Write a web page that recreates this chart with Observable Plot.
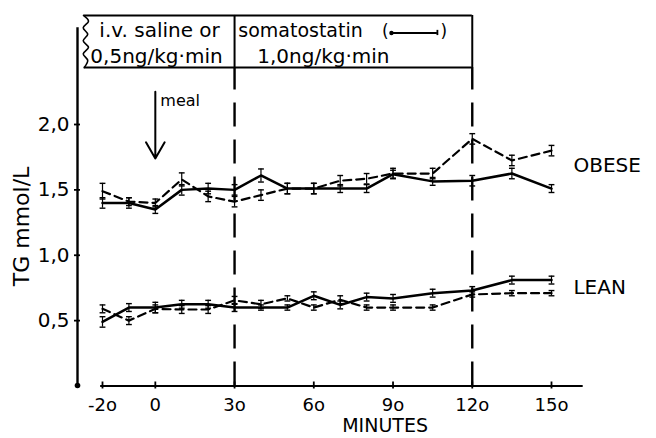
<!DOCTYPE html>
<html><head><meta charset="utf-8">
<script src="https://cdn.jsdelivr.net/npm/d3@7"></script>
<script src="https://cdn.jsdelivr.net/npm/@observablehq/plot@0.6"></script>
<style>
body{margin:0;background:#fff}
svg{font-family:"DejaVu Sans",Arial,sans-serif}
</style>
</head><body><div id="chart"></div>
<script>
// ---- data ----
const minutes = [-20,-10,0,10,20,30,40,50,60,70,80,90,105,120,135,150];
const obeseSomatostatin = [1.40,1.40,1.35,1.50,1.51,1.50,1.61,1.51,1.51,1.51,1.51,1.62,1.565,1.57,1.625,1.51];
const obeseSaline       = [1.49,1.41,1.40,1.58,1.45,1.41,1.46,1.51,1.51,1.57,1.585,1.625,1.625,1.89,1.725,1.80];
const leanSomatostatin  = [0.49,0.60,0.60,0.625,0.625,0.60,0.60,0.60,0.69,0.62,0.68,0.67,0.71,0.73,0.81,0.81];
const leanSaline        = [0.59,0.50,0.59,0.585,0.585,0.655,0.625,0.67,0.60,0.66,0.60,0.60,0.60,0.70,0.71,0.71];
const obeseSomatostatinSem = [0.04,0.04,0.03,0.04,0.04,0.04,0.05,0.04,0.04,0.03,0.03,0.03,0.03,0.04,0.04,0.03];
const obeseSalineSem       = [0.06,0.03,0.03,0.05,0.04,0.04,0.04,0.04,0.04,0.04,0.04,0.04,0.04,0.04,0.04,0.04];
const leanSomatostatinSem  = [0.04,0.03,0.04,0.03,0.03,0.03,0.02,0.02,0.03,0.03,0.03,0.03,0.03,0.03,0.03,0.03];
const leanSalineSem        = [0.03,0.03,0.03,0.03,0.03,0.03,0.03,0.02,0.02,0.03,0.02,0.02,0.02,0.02,0.02,0.02];

const xTickValues = [-20,0,30,60,90,120,150];
const xTickLabels = ["-2o","0","3o","6o","9o","12o","15o"];
const yTickValues = [0.5,1.0,1.5,2.0];
const yTickLabels = ["0,5","1,0","1,5","2,0"];
const periodBounds = [30,120];          // start / end of somatostatin infusion (min)
const groupLabels = ["OBESE","LEAN"];

// ---- tables built from the arrays ----
function rows(group, treatment, values, sems) {
  return minutes.map((t, i) => ({group, treatment, t, v: values[i], sem: sems[i]}));
}
const somaRows = [...rows("obese","somatostatin",obeseSomatostatin,obeseSomatostatinSem),
                  ...rows("lean","somatostatin",leanSomatostatin,leanSomatostatinSem)];
const salineRows = [...rows("obese","saline",obeseSaline,obeseSalineSem),
                    ...rows("lean","saline",leanSaline,leanSalineSem)];
const allRows = [...somaRows, ...salineRows];

// annotation placement in data units (minutes, mmol/L)
const boxTop = 2.834, boxBottom = 2.436, boxLeft = -26.9;
const line1 = 2.673, line2 = 2.474;
const tearEdge = [
  {t:-27.2,v:2.834},{t:-25.3,v:2.79},{t:-27.3,v:2.74},{t:-25.6,v:2.69},{t:-27.3,v:2.64},
  {t:-25.3,v:2.59},{t:-27.3,v:2.54},{t:-25.6,v:2.49},{t:-26.9,v:2.436}
];
const fmtX = d => xTickLabels[xTickValues.indexOf(d)];
const fmtY = d => yTickLabels[yTickValues.findIndex(v => Math.abs(v - d) < 1e-9)];

const chart = Plot.plot({
  width: 656, height: 438,
  marginLeft: 77, marginTop: 28, marginBottom: 53, marginRight: 20,
  style: {fontFamily: '"DejaVu Sans", Arial, sans-serif', color: "black", background: "white"},
  x: {domain: [-20, 150], range: [102, 551]},
  y: {domain: [0, 2], range: [385.5, 124]},
  marks: [
    // y axis
    Plot.frame({anchor: "left", strokeWidth: 2.4}),
    Plot.dot([0], {frameAnchor: "bottom-left", r: 2.8, fill: "black", stroke: "none"}),
    Plot.axisY({ticks: yTickValues, tickFormat: fmtY, tickSize: 6, dx: 3, tickPadding: 5,
                fontSize: 20, label: null, strokeWidth: 1.8}),
    // x axis
    Plot.ruleY([0], {x1: -20.7, x2: 162, strokeWidth: 2.2}),
    Plot.axisX({ticks: xTickValues, tickFormat: fmtX, tickSize: 7, dy: -3.5, tickPadding: 9,
                fontSize: 18, label: null, strokeWidth: 1.8}),
    Plot.text(["MINUTES"], {x: 87, y: -0.35, text: d => d, fontSize: 19, lineAnchor: "bottom"}),
    Plot.text(["TG mmol/L"], {x: -50.4, y: 1.22, text: d => d, rotate: -90, fontSize: 22}),
    // infusion period lines
    Plot.ruleX(periodBounds, {y1: 0, y2: boxBottom, strokeWidth: 2.4, strokeDasharray: "24,13"}),
    // top box
    Plot.ruleY([boxTop, boxBottom], {x1: boxLeft, x2: periodBounds[1], strokeWidth: 2}),
    Plot.ruleX(periodBounds, {y1: boxBottom, y2: boxTop, strokeWidth: 2}),
    Plot.line(tearEdge, {x: "t", y: "v", curve: "catmull-rom", strokeWidth: 1.6}),
    Plot.text(["i.v. saline or"], {x: -21.2, y: line1, text: d => d, textAnchor: "start", lineAnchor: "bottom", fontSize: 20}),
    Plot.text(["0,5ng/kg·min"], {x: -24.6, y: line2, text: d => d, textAnchor: "start", lineAnchor: "bottom", fontSize: 20}),
    Plot.text(["somatostatin"], {x: 31.4, y: line1, text: d => d, textAnchor: "start", lineAnchor: "bottom", fontSize: 19}),
    Plot.text(["("], {x: 87.1, y: line1, text: d => d, lineAnchor: "bottom", fontSize: 17}),
    Plot.text([")"], {x: 109.2, y: line1, text: d => d, lineAnchor: "bottom", fontSize: 17}),
    Plot.ruleY([2.70], {x1: 89.2, x2: 106.8, strokeWidth: 1.8}),
    Plot.dot([89.4], {x: d => d, y: 2.70, r: 2.2, fill: "black", stroke: "none"}),
    Plot.ruleX([106.8], {y1: 2.68, y2: 2.72, strokeWidth: 1.8}),
    Plot.text(["1,0ng/kg·min"], {x: 38.6, y: line2, text: d => d, textAnchor: "start", lineAnchor: "bottom", fontSize: 20}),
    // meal arrow
    Plot.arrow([0], {x1: 0, x2: 0, y1: 2.25, y2: 1.74, headLength: 14, strokeWidth: 2, bend: 0}),
    Plot.text(["meal"], {x: 1.9, y: 2.138, text: d => d, textAnchor: "start", lineAnchor: "bottom", fontSize: 16}),
    // group labels
    Plot.text(groupLabels, {x: 158.3, y: d => d === "OBESE" ? 1.633 : 0.70, text: d => d,
                            textAnchor: "start", lineAnchor: "bottom", fontSize: 20}),
    // error bars
    Plot.ruleX(allRows, {x: "t", y1: d => d.v - d.sem, y2: d => d.v + d.sem, strokeWidth: 1.2}),
    Plot.link(allRows, {x1: d => d.t - 1.1, x2: d => d.t + 1.1, y1: d => d.v + d.sem, y2: d => d.v + d.sem, strokeWidth: 1.4}),
    Plot.link(allRows, {x1: d => d.t - 1.1, x2: d => d.t + 1.1, y1: d => d.v - d.sem, y2: d => d.v - d.sem, strokeWidth: 1.4}),
    // data lines
    Plot.line(somaRows, {x: "t", y: "v", z: "group", strokeWidth: 2.5}),
    Plot.line(salineRows, {x: "t", y: "v", z: "group", strokeWidth: 2.2, strokeDasharray: "8,5"})
  ]
});
document.getElementById("chart").append(chart);
</script>
</body></html>
